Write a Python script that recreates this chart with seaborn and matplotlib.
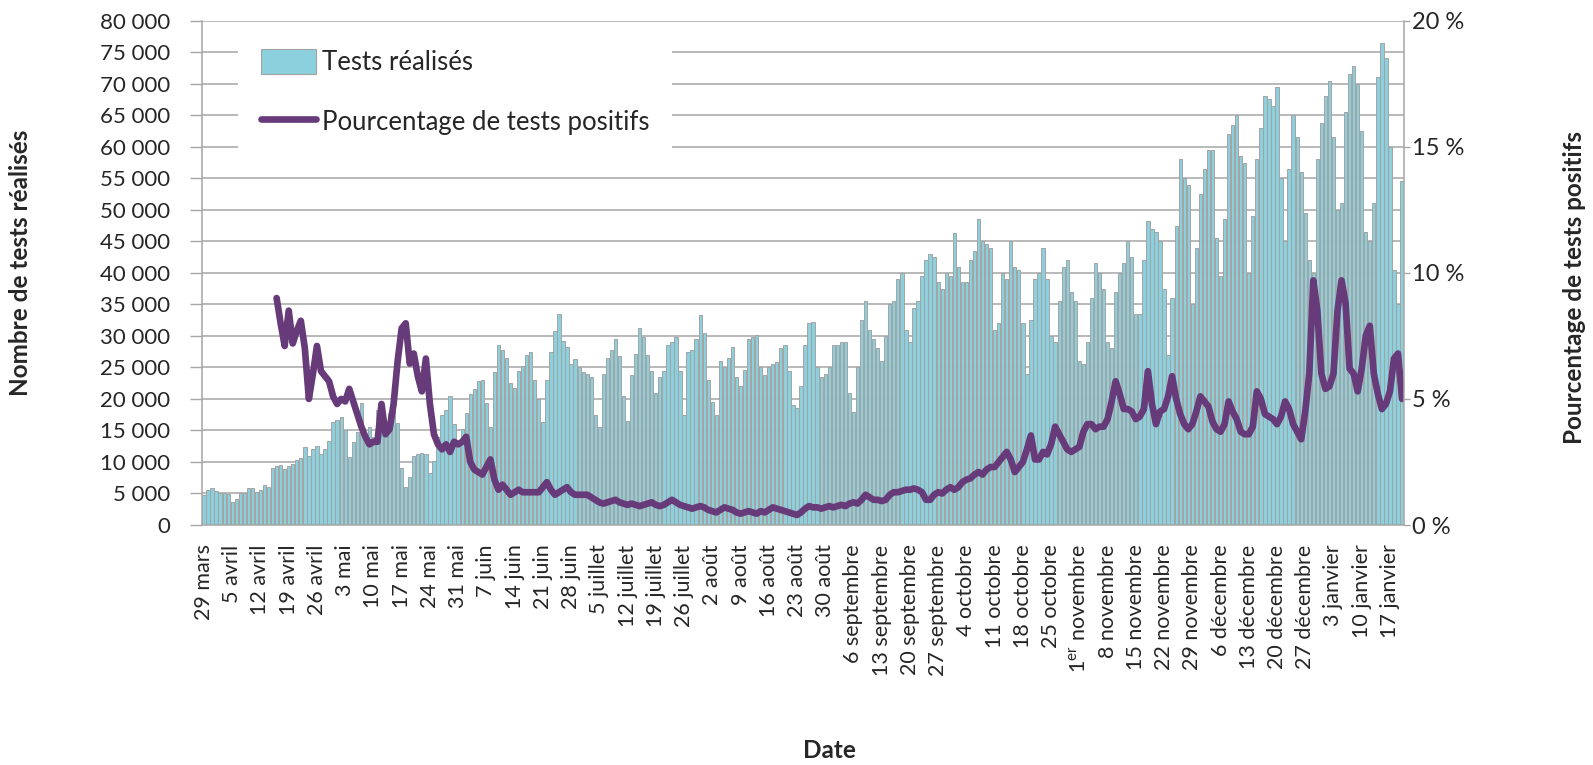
import numpy as np
import matplotlib
matplotlib.use("Agg")
import matplotlib.pyplot as plt
import seaborn as sns
from matplotlib.patches import Patch
from matplotlib.lines import Line2D

sns.set_theme(style="white")
plt.rcParams["font.family"] = ["Lato", "DejaVu Sans"]
plt.rcParams["mathtext.fontset"] = "custom"
plt.rcParams["mathtext.rm"] = "Lato"

# ---- Data: daily tests (from 29 March 2020), one row per week ----
tests_weeks = [
    [4700, 5500, 5800, 5400, 5000, 5000, 4900],
    [3600, 4200, 5000, 5000, 5800, 5800, 5300],
    [5600, 6300, 6100, 9000, 9300, 9500, 8900],
    [9300, 9700, 10300, 10600, 12400, 11000, 12000],
    [12600, 11200, 12100, 13300, 16400, 16700, 17200],
    [15000, 10800, 13200, 14800, 19300, 13200, 15500],
    [14000, 18300, 18000, 16000, 17800, 18200, 16200],
    [9000, 6000, 7600, 11000, 11300, 11400, 11300],
    [8200, 10200, 14000, 17500, 18300, 20500, 16000],
    [13000, 15200, 17800, 20800, 21500, 22800, 23000],
    [19300, 15500, 24200, 28500, 27800, 26500, 22500],
    [21800, 24500, 25200, 27000, 27500, 23000, 20000],
    [16300, 23000, 27500, 30800, 33500, 29200, 28200],
    [25500, 26300, 25000, 24200, 23900, 23500, 17500],
    [15500, 24000, 26500, 27800, 29500, 26800, 20500],
    [16500, 23800, 27200, 31300, 29800, 27000, 24500],
    [21000, 23500, 24500, 28500, 29000, 29800, 24500],
    [17500, 27500, 27800, 29500, 33300, 30500, 23000],
    [19500, 17500, 26000, 25000, 26500, 28200, 23500],
    [22000, 24600, 29500, 29800, 30200, 25000, 23800],
    [25000, 25500, 25800, 28000, 28500, 24500, 19000],
    [18500, 22000, 28500, 32000, 32200, 25000, 23500],
    [24000, 25000, 28500, 28500, 29000, 29000, 21000],
    [18000, 25000, 32500, 35500, 31000, 29500, 28000],
    [26000, 30000, 35000, 35500, 39000, 40000, 31000],
    [29000, 34500, 35500, 39500, 42000, 43000, 42500],
    [38500, 37500, 40000, 39500, 46300, 41000, 38500],
    [38500, 42000, 43500, 48500, 45000, 44500, 44000],
    [31000, 32000, 40000, 39000, 45000, 41000, 40500],
    [32000, 24000, 32500, 39000, 40000, 44000, 39000],
    [30000, 29000, 35500, 41000, 42000, 37000, 35500],
    [26000, 25500, 29000, 36000, 41500, 40000, 37500],
    [29000, 28000, 37000, 40000, 41500, 45000, 42500],
    [33500, 33500, 42000, 48200, 47000, 46500, 45000],
    [37500, 27000, 36000, 47500, 58000, 55000, 54000],
    [35000, 44000, 52500, 56500, 59500, 59500, 45500],
    [39500, 48500, 62000, 63500, 65000, 58500, 57500],
    [40000, 49000, 58000, 63000, 68000, 67500, 66500],
    [69500, 55000, 45000, 56500, 65000, 61500, 56000],
    [49500, 42000, 40000, 58000, 63800, 68000, 70500],
    [61500, 50000, 51000, 65500, 71500, 72800, 70000],
    [62500, 46500, 45000, 51000, 71000, 76500, 74000],
    [60000, 40500, 35000, 54500],
]

# ---- Data: percentage of positive tests (%), starting on day 18 ----
pct_start = 18
pct_values = [
    9.0, 8.0, 7.1, 8.5, 7.2, 7.7, 8.1, 7.0, 5.0, 6.0,
    7.1, 6.1, 5.9, 5.7, 5.1, 4.8, 5.0, 4.9, 5.4, 4.9,
    4.4, 3.9, 3.5, 3.2, 3.3, 3.3, 4.8, 3.6, 3.8, 4.8,
    6.5, 7.8, 8.0, 6.4, 6.8, 5.9, 5.3, 6.6, 4.8, 3.6,
    3.2, 3.0, 3.2, 2.9, 3.3, 3.2, 3.3, 3.5, 2.5, 2.2,
    2.1, 2.0, 2.3, 2.6, 1.8, 1.4, 1.6, 1.4, 1.2, 1.3,
    1.4, 1.3, 1.3, 1.3, 1.3, 1.3, 1.5, 1.7, 1.4, 1.2,
    1.3, 1.4, 1.5, 1.3, 1.2, 1.2, 1.2, 1.2, 1.1, 1.0,
    0.9, 0.85, 0.9, 0.95, 1.0, 0.9, 0.85, 0.8, 0.85, 0.8,
    0.75, 0.8, 0.85, 0.9, 0.8, 0.75, 0.8, 0.9, 1.0, 0.9,
    0.8, 0.75, 0.7, 0.65, 0.7, 0.75, 0.7, 0.6, 0.55, 0.5,
    0.6, 0.7, 0.65, 0.6, 0.5, 0.45, 0.5, 0.55, 0.5, 0.45,
    0.55, 0.5, 0.6, 0.7, 0.65, 0.6, 0.55, 0.5, 0.45, 0.4,
    0.5, 0.65, 0.75, 0.7, 0.7, 0.65, 0.7, 0.75, 0.7, 0.75,
    0.8, 0.75, 0.85, 0.9, 0.85, 1.0, 1.2, 1.1, 1.0, 1.0,
    0.95, 1.0, 1.2, 1.3, 1.3, 1.35, 1.4, 1.4, 1.45, 1.4,
    1.3, 1.0, 1.0, 1.2, 1.3, 1.25, 1.4, 1.5, 1.4, 1.5,
    1.7, 1.8, 1.85, 2.0, 2.1, 2.0, 2.2, 2.3, 2.3, 2.5,
    2.7, 2.9, 2.6, 2.1, 2.3, 2.5, 3.0, 3.55, 2.6, 2.6,
    2.9, 2.8, 3.2, 3.9, 3.6, 3.3, 3.0, 2.9, 3.0, 3.1,
    3.7, 4.0, 4.0, 3.8, 3.9, 3.9, 4.2, 4.9, 5.7, 5.2,
    4.6, 4.6, 4.5, 4.2, 4.3, 4.6, 6.1, 4.8, 4.0, 4.5,
    4.6, 5.1, 5.9, 5.0, 4.4, 4.0, 3.8, 4.0, 4.5, 5.1,
    4.9, 4.7, 4.1, 3.8, 3.7, 4.0, 4.9, 4.5, 4.2, 3.7,
    3.6, 3.6, 3.9, 5.3, 5.0, 4.4, 4.3, 4.2, 4.0, 4.3,
    4.9, 4.6, 4.0, 3.7, 3.4, 4.5, 6.0, 9.7, 8.5, 6.0,
    5.4, 5.5, 6.0, 8.5, 9.7, 8.8, 6.2, 6.0, 5.3, 6.2,
    7.5, 7.9, 6.0, 5.2, 4.6, 4.8, 5.3, 6.6, 6.8, 5.0,
]

week_labels = [
    "29 mars", "5 avril", "12 avril", "19 avril", "26 avril", "3 mai", "10 mai",
    "17 mai", "24 mai", "31 mai", "7 juin", "14 juin", "21 juin", "28 juin",
    "5 juillet", "12 juillet", "19 juillet", "26 juillet", "2 août", "9 août",
    "16 août", "23 août", "30 août", "6 septembre", "13 septembre",
    "20 septembre", "27 septembre", "4 octobre", "11 octobre", "18 octobre",
    "25 octobre", "1$^{\\mathrm{er}}$ novembre", "8 novembre", "15 novembre",
    "22 novembre", "29 novembre", "6 décembre", "13 décembre", "20 décembre",
    "27 décembre", "3 janvier", "10 janvier", "17 janvier",
]
left_tick_values = list(range(0, 80001, 5000))
left_tick_labels = ["0", "5 000", "10 000", "15 000", "20 000", "25 000", "30 000",
                    "35 000", "40 000", "45 000", "50 000", "55 000", "60 000",
                    "65 000", "70 000", "75 000", "80 000"]
right_tick_values = [0, 0.05, 0.10, 0.15, 0.20]
right_tick_labels = ["0 %", "5 %", "10 %", "15 %", "20 %"]

# ---- Build ----
tests = [v for w in tests_weeks for v in w]
N = len(tests)
days = np.arange(N)
pct_days = np.arange(pct_start, pct_start + len(pct_values))
pct = np.array(pct_values) / 100.0

bar_color = "#8BD0DC"
bar_edge = "#A3A3A3"
line_color = "#673A7A"
grid_color = "#A6A6A6"

fig = plt.figure(figsize=(15.93, 7.65), dpi=100)
ax = fig.add_axes([0.1268, 0.3137, 0.7546, 0.6593])

sns.barplot(x=days, y=tests, native_scale=True, color=bar_color, saturation=1,
            edgecolor=bar_edge, linewidth=0.7, width=0.82, errorbar=None, ax=ax)

ax.set_xlim(-0.5, N - 0.5)
ax.set_ylim(0, 80000)
ax.set_yticks(left_tick_values)
ax.set_yticklabels(left_tick_labels, fontsize=16)
ax.set_xticks(np.arange(0, 7 * len(week_labels), 7))
ax.set_xticklabels(week_labels, rotation=90, fontsize=15.5, va="top", ha="center")
ax.set_xticks(np.arange(-0.5, N, 7), minor=True)
ax.tick_params(axis="x", which="major", length=0, pad=14)
ax.tick_params(axis="x", which="minor", length=6, width=1, color=grid_color, direction="out")
ax.tick_params(axis="y", which="major", length=9, width=1, color=grid_color, direction="out", pad=14, left=True)
ax.grid(axis="y", color=grid_color, linewidth=1.1)
ax.grid(axis="x", visible=False)
ax.set_axisbelow(True)
for s in ["left", "bottom"]:
    ax.spines[s].set_color(grid_color)
    ax.spines[s].set_linewidth(1.1)
ax.spines["top"].set_visible(False)
ax.spines["right"].set_visible(False)

ax.set_ylabel("Nombre de tests réalisés", fontsize=17.5, fontweight="bold")
ax.yaxis.set_label_coords(-0.141, 0.52)
ax.set_xlabel("Date", fontsize=17.5, fontweight="bold")
ax.xaxis.set_label_coords(0.522, -0.425)

ax2 = ax.twinx()
sns.lineplot(x=pct_days, y=pct, color=line_color, linewidth=4.8, ax=ax2,
             solid_capstyle="round", solid_joinstyle="round")
ax2.set_ylim(0, 0.20)
ax2.set_yticks(right_tick_values)
ax2.set_yticklabels(right_tick_labels, fontsize=17)
ax2.tick_params(axis="y", which="major", length=4, width=1, color=grid_color, direction="out", pad=2, right=True)
for s in ["left", "bottom", "top"]:
    ax2.spines[s].set_visible(False)
ax2.spines["right"].set_color(grid_color)
ax2.spines["right"].set_linewidth(1.1)
ax2.set_ylabel("Pourcentage de tests positifs", fontsize=17.5, fontweight="bold")
ax2.yaxis.set_label_coords(1.132, 0.47)

handles = [Patch(facecolor=bar_color, edgecolor=bar_edge, linewidth=0.8),
           Line2D([], [], color=line_color, linewidth=4.8, solid_capstyle="round")]
leg = ax2.legend(handles, ["Tests réalisés", "Pourcentage de tests positifs"],
                 loc="upper left", bbox_to_anchor=(0.03, 0.99), fontsize=18.5,
                 frameon=True, facecolor="white", edgecolor="none", framealpha=1,
                 handlelength=2.15, handleheight=1.15, handletextpad=0.2,
                 labelspacing=1.3, borderpad=0.9, borderaxespad=0)
leg.get_frame().set_boxstyle("square", pad=0)

fig.savefig("out.png", dpi=100)
